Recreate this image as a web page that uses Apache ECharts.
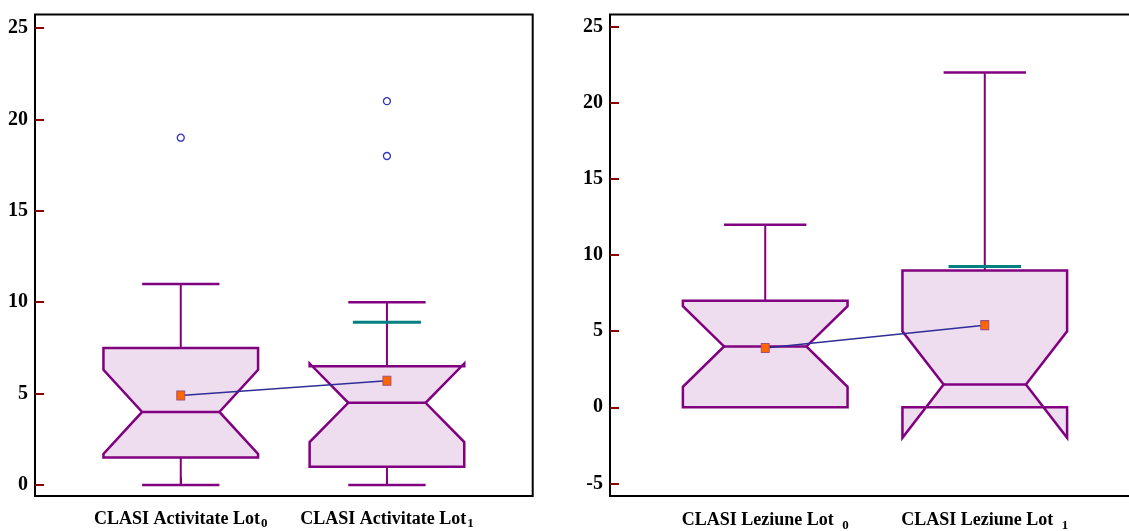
<!DOCTYPE html>
<html>
<head>
<meta charset="utf-8">
<script src="https://cdn.jsdelivr.net/npm/echarts@6/dist/echarts.min.js"></script>
<style>
html,body{margin:0;padding:0;background:#fff;}
#chart{width:1129px;height:531px;}
</style>
</head>
<body>
<div id="chart"></div>
<script>
// ---------- DATA ----------
// Left panel: CLASI Activitate
const leftLabels = ['CLASI Activitate Lot', 'CLASI Activitate Lot'];
const leftSubs = ['0', '1'];
const leftWhiskerLow = [0, 0];
const leftQ1 = [1.5, 1.0];
const leftMedian = [4, 4.5];
const leftQ3 = [7.5, 6.5];
const leftWhiskerHigh = [11, 10];
const leftNotchLow = [1.7, 2.35];
const leftNotchHigh = [6.3, 6.65];
const leftMean = [4.9, 5.7];
const leftTeal = [null, 8.9];
const leftOutliers = [[1, 19], [2, 21], [2, 18]];
const leftTicks = [0, 5, 10, 15, 20, 25];

// Right panel: CLASI Leziune
const rightLabels = ['CLASI Leziune Lot ', 'CLASI Leziune Lot '];
const rightSubs = ['0', '1'];
const rightWhiskerLow = [0, 0];
const rightQ1 = [0, 0];
const rightMedian = [4, 1.5];
const rightQ3 = [7, 9];
const rightWhiskerHigh = [12, 22];
const rightNotchLow = [1.35, -2];
const rightNotchHigh = [6.65, 5.0];
const rightMean = [3.9, 5.4];
const rightTeal = [null, 9.25];
const rightOutliers = [];
const rightTicks = [-5, 0, 5, 10, 15, 20, 25];

const catPositions = [1, 2];

// ---------- STYLE ----------
const BOX = '#800080';
const FILL = '#eedcef';
const TEAL = '#008080';
const TICK = '#8b0000';
const HALF = 0.375, INNER = 0.1875, CAP = 0.1875, TEALHALF = 0.165;
const FONT = '"Liberation Serif", "Times New Roman", serif';

function boxRender(src) {
  return function (params, api) {
    const i = params.dataIndex;
    const x = api.value(0);
    const wl = src.wl[i], q1 = src.q1[i], md = src.md[i], q3 = src.q3[i], wh = src.wh[i];
    const nl = src.nl[i], nh = src.nh[i], teal = src.teal[i];
    const c = (xx, yy) => api.coord([xx, yy]);
    const L = x - HALF, R = x + HALF, iL = x - INNER, iR = x + INNER;
    const children = [];
    const ls = { stroke: BOX, lineWidth: 2, fill: null };
    if (wh > q3) {
      const a = c(x, q3), b = c(x, wh);
      children.push({ type: 'line', shape: { x1: a[0], y1: a[1], x2: b[0], y2: b[1] }, style: ls });
      const p = c(x - CAP, wh), q = c(x + CAP, wh);
      children.push({ type: 'line', shape: { x1: p[0], y1: p[1], x2: q[0], y2: q[1] }, style: { stroke: BOX, lineWidth: 2.5 } });
    }
    if (wl < q1) {
      const a = c(x, q1), b = c(x, wl);
      children.push({ type: 'line', shape: { x1: a[0], y1: a[1], x2: b[0], y2: b[1] }, style: ls });
      const p = c(x - CAP, wl), q = c(x + CAP, wl);
      children.push({ type: 'line', shape: { x1: p[0], y1: p[1], x2: q[0], y2: q[1] }, style: { stroke: BOX, lineWidth: 2.5 } });
    }
    if (teal != null) {
      const p = c(x - TEALHALF, teal), q = c(x + TEALHALF, teal);
      children.push({ type: 'line', shape: { x1: p[0], y1: p[1], x2: q[0], y2: q[1] }, style: { stroke: TEAL, lineWidth: 3 } });
    }
    const pts = [c(L, q3), c(L, nh), c(iL, md), c(L, nl), c(L, q1), c(R, q1), c(R, nl), c(iR, md), c(R, nh), c(R, q3)];
    children.push({ type: 'polygon', shape: { points: pts }, style: { fill: FILL, stroke: BOX, lineWidth: 2.5, lineJoin: 'miter' } });
    const m1 = c(iL, md), m2 = c(iR, md);
    children.push({ type: 'line', shape: { x1: m1[0], y1: m1[1], x2: m2[0], y2: m2[1] }, style: { stroke: BOX, lineWidth: 2.5 } });
    return { type: 'group', children: children };
  };
}

const leftSrc = { wl: leftWhiskerLow, q1: leftQ1, md: leftMedian, q3: leftQ3, wh: leftWhiskerHigh, nl: leftNotchLow, nh: leftNotchHigh, teal: leftTeal };
const rightSrc = { wl: rightWhiskerLow, q1: rightQ1, md: rightMedian, q3: rightQ3, wh: rightWhiskerHigh, nl: rightNotchLow, nh: rightNotchHigh, teal: rightTeal };

function boxData(src) {
  return catPositions.map((x, i) => [x, src.wl[i], src.q1[i], src.md[i], src.q3[i], src.wh[i]]);
}

const labelRich = {
  a: { fontFamily: FONT, fontWeight: 'bold', fontSize: 18, color: '#000' },
  s: { fontFamily: FONT, fontWeight: 'bold', fontSize: 13, color: '#000', padding: [8, 0, 0, 1], verticalAlign: 'bottom' },
  s2: { fontFamily: FONT, fontWeight: 'bold', fontSize: 13, color: '#000', padding: [10, 0, 0, 4], verticalAlign: 'bottom' }
};

function xAxisCfg(gridIndex, labels, subs, subKey) {
  return {
    type: 'value', gridIndex: gridIndex, min: 0.293, max: 2.707,
    axisLine: { show: false },
    splitLine: { show: false },
    axisTick: { show: true, inside: true, length: 8, customValues: catPositions, lineStyle: { color: TICK, width: 2 } },
    axisLabel: {
      show: true, margin: 13, customValues: catPositions,
      formatter: function (v) { const i = catPositions.indexOf(v); return i < 0 ? '' : '{a|' + labels[i] + '}{' + subKey + '|' + subs[i] + '}'; },
      rich: labelRich
    }
  };
}
function yAxisCfg(gridIndex, min, max, ticks) {
  return {
    type: 'value', gridIndex: gridIndex, min: min, max: max,
    axisLine: { show: false },
    splitLine: { show: false },
    axisTick: { show: true, inside: true, length: 9, customValues: ticks, lineStyle: { color: TICK, width: 2 } },
    axisLabel: { show: true, margin: 7, customValues: ticks, fontFamily: FONT, fontWeight: 'bold', fontSize: 20, color: '#000' }
  };
}

const option = {
  animation: false,
  backgroundColor: '#fff',
  grid: [
    { left: 35, top: 14.5, right: 596.3, bottom: 35, show: true, borderColor: '#000', borderWidth: 2, backgroundColor: 'transparent', containLabel: false, outerBoundsMode: 'none' },
    { left: 610, top: 14.5, right: -11, bottom: 35, show: true, borderColor: '#000', borderWidth: 2, backgroundColor: 'transparent', containLabel: false, outerBoundsMode: 'none' }
  ],
  xAxis: [xAxisCfg(0, leftLabels, leftSubs, 's'), xAxisCfg(1, rightLabels, rightSubs, 's2')],
  yAxis: [yAxisCfg(0, -0.6, 25.74, leftTicks), yAxisCfg(1, -5.83, 25.82, rightTicks)],
  series: [
    { type: 'custom', xAxisIndex: 0, yAxisIndex: 0, renderItem: boxRender(leftSrc), data: boxData(leftSrc), encode: { x: 0, y: [1, 2, 3, 4, 5] }, z: 2, clip: false },
    { type: 'custom', xAxisIndex: 1, yAxisIndex: 1, renderItem: boxRender(rightSrc), data: boxData(rightSrc), encode: { x: 0, y: [1, 2, 3, 4, 5] }, z: 2, clip: false },
    { type: 'line', xAxisIndex: 0, yAxisIndex: 0, data: catPositions.map((x, i) => [x, leftMean[i]]), symbol: 'rect', symbolSize: [8, 9], showSymbol: true,
      lineStyle: { color: '#2e2e96', width: 1.5 }, itemStyle: { color: '#ff6600', borderColor: '#a0527a', borderWidth: 1 }, z: 5 },
    { type: 'line', xAxisIndex: 1, yAxisIndex: 1, data: catPositions.map((x, i) => [x, rightMean[i]]), symbol: 'rect', symbolSize: [8, 9], showSymbol: true,
      lineStyle: { color: '#2e2e96', width: 1.5 }, itemStyle: { color: '#ff6600', borderColor: '#a0527a', borderWidth: 1 }, z: 5 },
    { type: 'scatter', xAxisIndex: 0, yAxisIndex: 0, data: leftOutliers, symbol: 'circle', symbolSize: 7,
      itemStyle: { color: '#fff', borderColor: '#0000aa', borderWidth: 1.3 }, z: 5 },
    { type: 'scatter', xAxisIndex: 1, yAxisIndex: 1, data: rightOutliers, symbol: 'circle', symbolSize: 7,
      itemStyle: { color: '#fff', borderColor: '#0000aa', borderWidth: 1.3 }, z: 5 }
  ]
};

const chart = echarts.init(document.getElementById('chart'), null, { renderer: 'canvas' });
chart.setOption(option);
</script>
</body>
</html>
